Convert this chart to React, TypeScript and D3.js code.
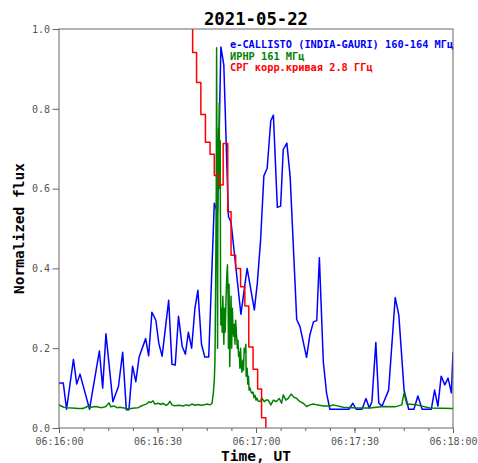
import {useEffect, useRef} from "react";
import * as d3 from "d3";

// seconds after 06:16:00 UT, normalized flux
const callistoSec = [0, 1.3, 2.3, 4.4, 5.4, 6.4, 9.3, 12.3, 13.3, 14.3, 16.4, 18.1, 19.4, 20.5, 21.3, 22.4, 23.4, 24.4, 26.4, 27.3, 28.3, 29.5, 30.4, 31.4, 33.4, 34.4, 35.4, 36.4, 37.5, 38.5, 39.4, 40.4, 41.4, 42.3, 43.4, 44.4, 45.6, 47.3, 48.3, 49.3, 50.2, 51.6, 52.4, 55.4, 57.3, 59.5, 60.4, 61.4, 62.4, 63.4, 64.5, 65.3, 66.5, 67.5, 68.3, 69.4, 70.4, 72.4, 73.4, 75.4, 76.4, 77.5, 78.5, 79.3, 80.5, 81.5, 82.5, 88.3, 89.5, 90.5, 92.3, 93.5, 94.5, 95.3, 96.5, 97.4, 98.4, 100.4, 102.4, 103.5, 105.1, 106.5, 108.1, 109.3, 110.6, 113.4, 114.4, 115.4, 116.4, 117.5, 118.5, 119.5, 120];
const callistoFlux = [0.113, 0.113, 0.047, 0.172, 0.11, 0.135, 0.047, 0.193, 0.10, 0.236, 0.066, 0.104, 0.19, 0.046, 0.046, 0.155, 0.116, 0.178, 0.224, 0.181, 0.29, 0.27, 0.212, 0.18, 0.32, 0.16, 0.158, 0.28, 0.205, 0.185, 0.24, 0.20, 0.30, 0.345, 0.21, 0.178, 0.178, 0.563, 0.54, 0.955, 0.91, 0.53, 0.516, 0.285, 0.40, 0.296, 0.363, 0.471, 0.632, 0.651, 0.77, 0.784, 0.553, 0.556, 0.698, 0.714, 0.63, 0.272, 0.254, 0.177, 0.233, 0.266, 0.269, 0.427, 0.166, 0.087, 0.047, 0.047, 0.062, 0.047, 0.047, 0.074, 0.05, 0.066, 0.214, 0.062, 0.055, 0.095, 0.327, 0.283, 0.095, 0.047, 0.047, 0.08, 0.047, 0.047, 0.095, 0.055, 0.13, 0.108, 0.125, 0.088, 0.19];

const irnrSec = [0, 0.6, 1.5, 2.4, 4.0, 5.8, 7.3, 8.2, 8.8, 9.4, 10.4, 11.3, 12.2, 13.1, 14.3, 15.2, 15.8, 16.8, 17.7, 18.6, 19.8, 20.7, 21.9, 23.1, 24.1, 25.0, 25.9, 26.8, 27.4, 28.0, 28.6, 29.2, 30.2, 31.1, 31.7, 32.6, 33.2, 33.8, 34.4, 35.3, 36.5, 37.8, 38.7, 39.6, 40.5, 41.4, 42.3, 43.2, 44.2, 45.1, 46.0, 46.6, 47.0, 47.3, 47.5, 47.7, 47.9, 48.0, 48.2, 48.3, 48.4, 48.6, 48.7, 48.8, 48.9, 49.1, 49.2, 49.3, 49.6, 49.7, 49.9, 50.2, 50.4, 50.6, 50.9, 51.1, 51.3, 51.5, 51.6, 51.8, 52.0, 52.2, 52.4, 52.6, 52.8, 53.0, 53.2, 53.4, 53.6, 53.8, 54.1, 54.3, 54.5, 54.7, 54.9, 55.1, 55.3, 55.5, 55.7, 56.0, 56.2, 56.4, 56.7, 56.9, 57.0, 57.3, 57.5, 57.7, 57.9, 58.2, 58.5, 58.8, 59.1, 59.4, 59.7, 60.0, 60.3, 60.6, 61.2, 61.8, 62.5, 63.1, 63.7, 64.5, 65.3, 66.1, 67.1, 67.8, 68.3, 69.1, 69.8, 70.7, 71.4, 72.4, 73.4, 74.4, 75.4, 76.4, 77.5, 78.5, 80.5, 82.5, 83.5, 86.6, 90.7, 94.7, 98.8, 102.3, 104.4, 105.1, 105.9, 108.9, 113.0, 120];
const irnrFlux = [0.059, 0.055, 0.052, 0.051, 0.050, 0.049, 0.049, 0.052, 0.055, 0.051, 0.053, 0.054, 0.052, 0.051, 0.054, 0.063, 0.053, 0.055, 0.051, 0.052, 0.050, 0.048, 0.049, 0.050, 0.051, 0.055, 0.058, 0.061, 0.066, 0.064, 0.068, 0.060, 0.062, 0.059, 0.062, 0.057, 0.060, 0.067, 0.058, 0.056, 0.057, 0.055, 0.058, 0.056, 0.060, 0.057, 0.059, 0.057, 0.058, 0.060, 0.058, 0.062, 0.087, 0.12, 0.17, 0.35, 0.60, 0.953, 0.45, 0.20, 0.62, 0.75, 0.60, 0.814, 0.65, 0.72, 0.35, 0.258, 0.30, 0.24, 0.33, 0.21, 0.30, 0.24, 0.33, 0.38, 0.409, 0.33, 0.20, 0.36, 0.154, 0.25, 0.33, 0.20, 0.30, 0.25, 0.23, 0.26, 0.21, 0.27, 0.23, 0.20, 0.22, 0.18, 0.19, 0.15, 0.20, 0.16, 0.14, 0.17, 0.145, 0.20, 0.19, 0.21, 0.13, 0.15, 0.11, 0.13, 0.095, 0.10, 0.09, 0.087, 0.09, 0.076, 0.082, 0.07, 0.075, 0.068, 0.066, 0.075, 0.066, 0.07, 0.07, 0.058, 0.07, 0.066, 0.074, 0.062, 0.083, 0.07, 0.074, 0.085, 0.078, 0.074, 0.066, 0.062, 0.054, 0.058, 0.06, 0.058, 0.055, 0.055, 0.058, 0.052, 0.05, 0.05, 0.054, 0.053, 0.058, 0.088, 0.06, 0.058, 0.05, 0.049];

// step curve, each value holds until the next time
const srgSec = [39.4, 40.7, 41.9, 43.2, 44.6, 46.0, 47.3, 48.7, 50.0, 51.4, 52.4, 53.8, 55.3, 56.6, 57.8, 59.1, 60.5, 61.7, 63.0];
const srgFlux = [1.05, 0.941, 0.866, 0.786, 0.716, 0.686, 0.633, 0.609, 0.713, 0.542, 0.433, 0.40, 0.354, 0.306, 0.203, 0.147, 0.098, 0.026, 0];

const yTicks = [0, 0.2, 0.4, 0.6, 0.8, 1.0];
const legendLabels = [
	"e-CALLISTO (INDIA-GAURI) 160-164 МГц",
	"ИРНР 161 МГц",
	"СРГ корр.кривая 2.8 ГГц",
];
const legendColors = ["#0000ff", "#008000", "#ff0000"];

const W = 478;
const H = 463;
const mono = "'DejaVu Sans Mono', monospace";

const App = () => {
	const svgRef = useRef<SVGSVGElement>(null);

	useEffect(() => {
		document.body.style.margin = "0";
		const left = 59, right = 453, top = 29, bottom = 428;
		const t0 = Date.UTC(2021, 4, 22, 6, 16, 0);
		const toDate = (s: number) => new Date(t0 + s * 1000);

		const x = d3.scaleUtc().domain([toDate(0), toDate(120)]).range([left, right]);
		const y = d3.scaleLinear().domain([0, 1]).range([bottom, top]);

		const svg = d3.select(svgRef.current);
		svg.selectAll("*").remove();

		svg.append("defs").append("clipPath").attr("id", "plot-clip")
			.append("rect").attr("x", left).attr("y", top)
			.attr("width", right - left).attr("height", bottom - top);

		const line = d3.line<[number, number]>()
			.x((d) => x(toDate(d[0])))
			.y((d) => y(d[1]));

		const series = [
			{sec: callistoSec, flux: callistoFlux, color: legendColors[0], curve: d3.curveLinear},
			{sec: irnrSec, flux: irnrFlux, color: legendColors[1], curve: d3.curveLinear},
			{sec: srgSec, flux: srgFlux, color: legendColors[2], curve: d3.curveStepAfter},
		];

		const plot = svg.append("g").attr("clip-path", "url(#plot-clip)");
		series.forEach((s) => {
			const pts = s.sec.map((t, i) => [t, s.flux[i]] as [number, number]);
			plot.append("path")
				.attr("fill", "none")
				.attr("stroke", s.color)
				.attr("stroke-width", 1.5)
				.attr("stroke-linejoin", "round")
				.attr("d", line.curve(s.curve)(pts));
		});

		// frame
		svg.append("rect")
			.attr("x", left).attr("y", top)
			.attr("width", right - left).attr("height", bottom - top)
			.attr("fill", "none").attr("stroke", "#666").attr("stroke-width", 1);

		const styleAxis = (g: any) => {
			g.select(".domain").remove();
			g.selectAll(".tick line").attr("stroke", "#666");
			g.selectAll(".tick text")
				.attr("fill", "#555")
				.attr("font-family", mono)
				.attr("font-size", 10);
		};

		// x axis: labels every 30 s, minor ticks every 7.5 s
		const minor = d3.range(0, 121, 7.5).map(toDate);
		const major = d3.range(0, 121, 30).map(toDate);
		svg.append("g")
			.attr("transform", `translate(0,${bottom})`)
			.call(d3.axisBottom(x).tickValues(minor).tickSize(3).tickFormat(() => ""))
			.call(styleAxis);
		svg.append("g")
			.attr("transform", `translate(0,${bottom})`)
			.call(d3.axisBottom(x).tickValues(major).tickSize(5).tickPadding(4.4)
				.tickFormat((d) => d3.utcFormat("%H:%M:%S")(d as Date)))
			.call(styleAxis);

		svg.append("g")
			.attr("transform", `translate(${left},0)`)
			.call(d3.axisLeft(y).tickValues(yTicks).tickSize(6.5).tickPadding(2.5).tickFormat(d3.format(".1f")))
			.call(styleAxis);

		// title and axis labels
		svg.append("text")
			.attr("x", (left + right) / 2).attr("y", 25)
			.attr("text-anchor", "middle")
			.attr("font-family", mono).attr("font-weight", "bold").attr("font-size", 17.3)
			.attr("fill", "#000")
			.text("2021-05-22");

		svg.append("text")
			.attr("x", (left + right) / 2).attr("y", 461)
			.attr("text-anchor", "middle")
			.attr("font-family", mono).attr("font-weight", "bold").attr("font-size", 14.5)
			.attr("fill", "#000")
			.text("Time, UT");

		svg.append("text")
			.attr("transform", `translate(24,${(top + bottom) / 2}) rotate(-90)`)
			.attr("text-anchor", "middle")
			.attr("font-family", mono).attr("font-weight", "bold").attr("font-size", 14.5)
			.attr("fill", "#000")
			.text("Normalized flux");

		// legend as coloured text lines
		svg.selectAll(".legend-text")
			.data(legendLabels)
			.enter()
			.append("text")
			.attr("class", "legend-text")
			.attr("x", 230)
			.attr("y", (_d, i) => 48 + i * 11.6)
			.attr("font-family", mono).attr("font-weight", "bold").attr("font-size", 10.3)
			.attr("fill", (_d, i) => legendColors[i])
			.text((d) => d);
	}, []);

	return <svg ref={svgRef} width={W} height={H} style={{display: "block", background: "#fff"}}></svg>;
};

export default App;
